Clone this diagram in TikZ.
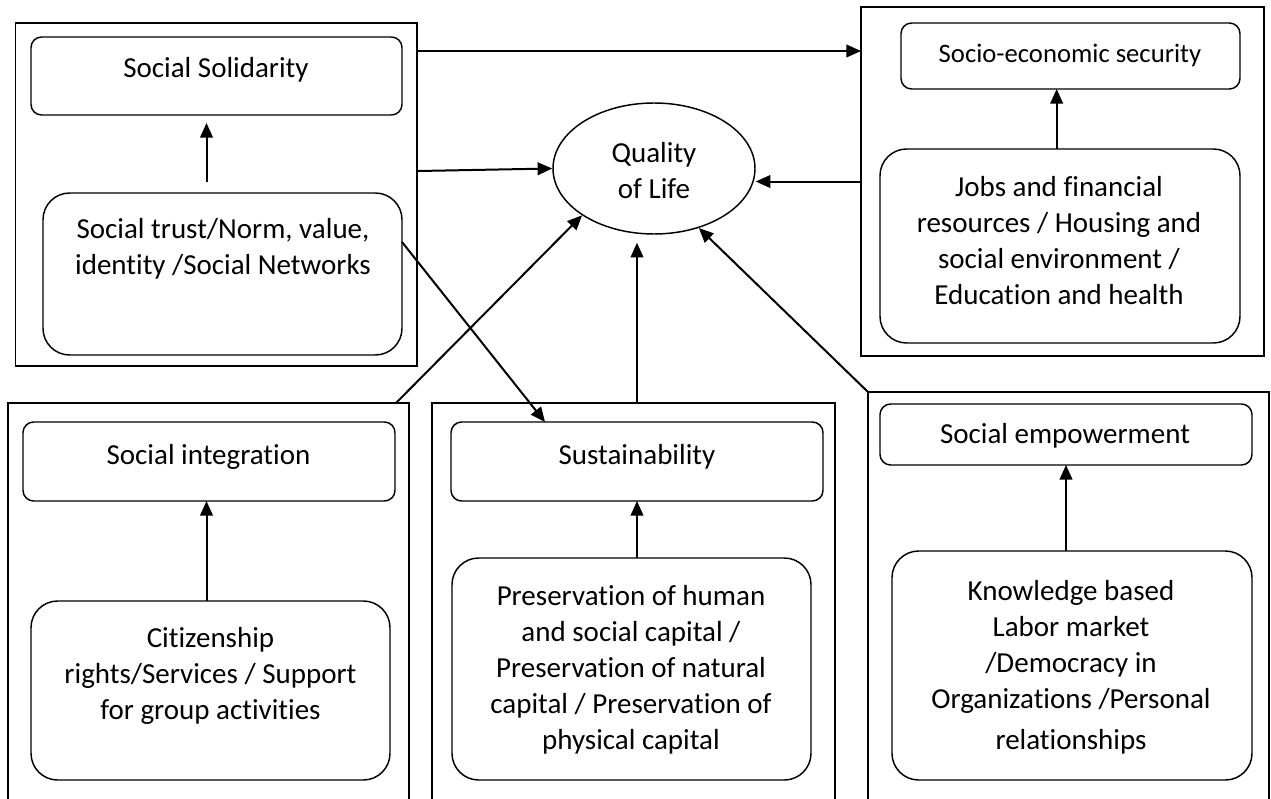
\documentclass[tikz,border=0pt]{standalone}
\usepackage{fontspec}
\setmainfont{Carlito}[Ligatures=NoCommon]
\usepackage{tikz}
\usetikzlibrary{arrows.meta}
\usetikzlibrary{shapes.geometric}
\tikzset{outerbox/.style={draw,line width=1.1pt,inner sep=0pt,outer sep=0pt},
 headbox/.style={draw,line width=1.1pt,rounded corners=8pt,inner sep=0pt,outer sep=0pt},
 itembox/.style={draw,line width=1.1pt,rounded corners=20pt,inner sep=0pt,outer sep=0pt},
 txt/.style={align=center,inner sep=0pt,font=\fontsize{21.75pt}{27pt}\selectfont},
 arr/.style={-{Triangle[length=11pt,width=9.5pt]},line width=1.5pt},
 }

\begin{document}
\begin{tikzpicture}[x=0.75pt,y=-0.75pt]
    \useasboundingbox (0,0) rectangle (1271,799);
    \clip (0,0) rectangle (1271,799);
        \node[outerbox, minimum width=301.1pt, minimum height=257.25pt] (solout) at (216.25,194.5) {};
        \node[headbox, minimum width=278.25pt, minimum height=58.5pt] (soltitle) at (216.5,76) {};
        \node[itembox, minimum width=269.25pt, minimum height=121.5pt] (trust) at (222.5,274) {};
        \node[txt] (soltext) at (216,70) {Social Solidarity};
        \node[txt] (trusttext) at (223,248.5) {Social trust/Norm, value,\\identity /Social Networks};

        \node[outerbox, minimum width=302.25pt, minimum height=261.75pt] (seout) at (1062.5,181.5) {};
        \node[headbox, minimum width=254.25pt, minimum height=49.5pt] (setitle) at (1070.5,56) {};
        \node[itembox, minimum width=270pt, minimum height=145.5pt] (jobs) at (1060,246) {};
        \node[txt, font=\fontsize{20pt}{25pt}\selectfont] (setext) at (1070,55) {Socio-economic security};
        \node[txt] (jobstext) at (1059,241) {Jobs and financial\\resources / Housing and\\social environment /\\Education and health};

        \node[draw, ellipse, line width=1.1pt, inner sep=0pt, minimum width=151.5pt, minimum height=98.25pt] (qol) at (654,168.5) {};
        \node[txt] (qoltext) at (654,170.5) {Quality\\of Life};

        \node[outerbox, minimum width=300.75pt, minimum height=312.75pt] (intout) at (208.5,611.5) {};
        \node[headbox, minimum width=279pt, minimum height=59.25pt] (inttitle) at (209,461.5) {};
        \node[itembox, minimum width=269.25pt, minimum height=134.25pt] (cit) at (210.5,690.5) {};
        \node[txt] (inttext) at (208.5,457) {Social integration};
        \node[txt] (cittext) at (210.5,675.5) {Citizenship\\rights/Services / Support\\for group activities};

        \node[outerbox, minimum width=302.25pt, minimum height=312.75pt] (sustout) at (633.5,611.5) {};
        \node[headbox, minimum width=279pt, minimum height=59.25pt] (susttitle) at (637,461.5) {};
        \node[itembox, minimum width=269.25pt, minimum height=166.5pt] (pres) at (631.5,669) {};
        \node[txt] (susttext) at (637,457) {Sustainability};
        \node[txt] (prestext) at (631,670) {Preservation of human\\and social capital /\\Preservation of natural\\capital / Preservation of\\physical capital};

        \node[outerbox, minimum width=300.75pt, minimum height=321pt] (empout) at (1068.5,606) {};
        \node[headbox, minimum width=279pt, minimum height=45.75pt] (emptitle) at (1066,434.5) {};
        \node[itembox, minimum width=270pt, minimum height=171.75pt] (know) at (1072,665.5) {};
        \node[txt] (emptext) at (1065,436) {Social empowerment};
        \node[txt] (knowtext) at (1071,667) {Knowledge based\\Labor market\\/Democracy in\\Organizations /Personal\\[4pt]relationships};

        \draw[arr, shorten <=8pt, shorten >=6pt] ([xshift=-12pt]trust.north) -- ([xshift=-12pt]trust.north |- soltitle.south);
        \draw[arr] ([xshift=-2.5pt]jobs.north) -- ([xshift=-2.5pt]jobs.north |- setitle.south);
        \draw[arr] ([xshift=-3pt]cit.north) -- ([xshift=-3pt]cit.north |- inttitle.south);
        \draw[arr] (susttitle.south |- pres.north) -- (susttitle.south);
        \draw[arr] (emptitle.south |- know.north) -- (emptitle.south);

        \draw[arr] ([yshift=-21pt]solout.north east) -- ([yshift=-21pt]solout.north east -| seout.west);
        \draw[arr] ([yshift=17.6pt]solout.east) -- (qol.west);
        \draw[arr] (seout.west) -- (seout.west -| qol.east);
        \draw[arr] ([yshift=24pt]trust.east) -- ([xshift=-69pt]susttitle.north);
        \draw[arr] ([xshift=-9.75pt]intout.north east) -- (qol.south west);
        \draw[arr, shorten >=6pt] (susttitle.north |- sustout.north) -- (susttitle.north |- qol.south);
        \draw[arr] (empout.north west) -- (qol.-53);
    \end{tikzpicture}
\end{document}
